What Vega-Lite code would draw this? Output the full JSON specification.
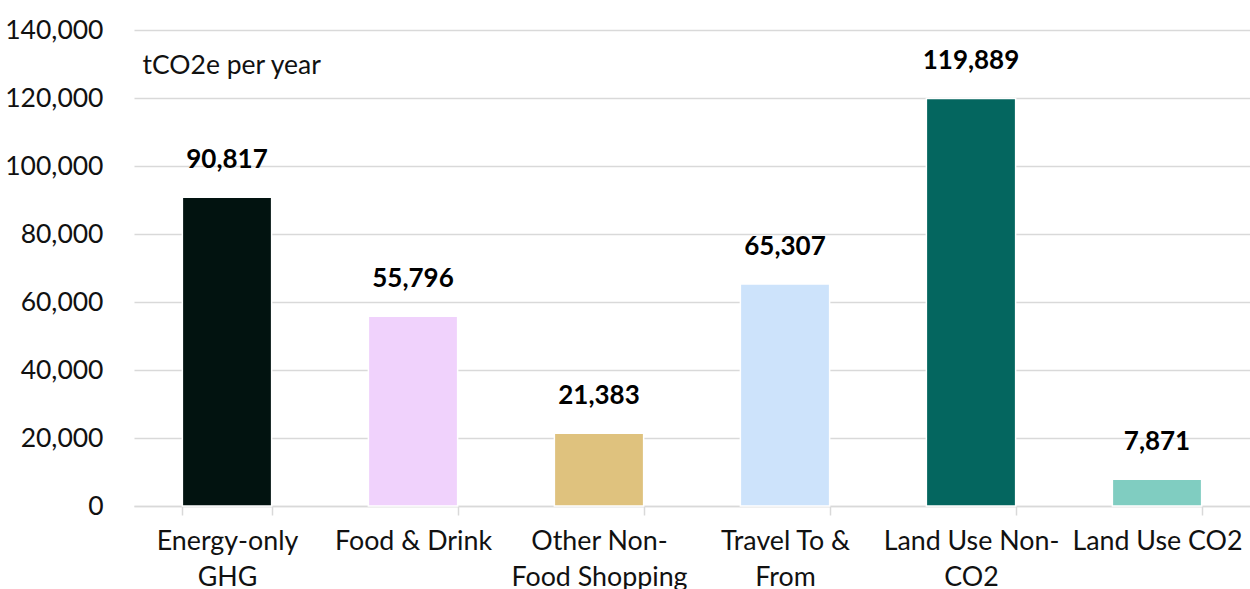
{
  "$schema": "https://vega.github.io/schema/vega-lite/v6.json",
  "autosize": {"type": "none"},
  "padding": {"left": 134, "top": 30, "right": 0, "bottom": 83},
  "width": 1116,
  "height": 476,
  "background": "white",
  "config": {"view": {"stroke": null}, "font": "Lato"},
  "data": {"values": [
    {"category": "Energy-only GHG", "value": 90817},
    {"category": "Food & Drink", "value": 55796},
    {"category": "Other Non-Food Shopping", "value": 21383},
    {"category": "Travel To & From", "value": 65307},
    {"category": "Land Use Non-CO2", "value": 119889},
    {"category": "Land Use CO2", "value": 7871}
  ]},
  "encoding": {
    "x": {
      "field": "category", "type": "nominal", "sort": null,
      "scale": {"paddingInner": 0.52, "paddingOuter": 0.26},
      "axis": {
        "title": null, "labelAngle": 0, "labelFont": "Lato", "labelFontSize": 26.8, "labelColor": "#111111",
        "labelPadding": 13, "labelLineHeight": 36, "labelBaseline": "top",
        "domainColor": "#d9d9d9", "domainWidth": 1.5, "tickColor": "#d9d9d9", "tickWidth": 1.5, "tickSize": 9,
        "tickBand": "extent", "grid": false,
        "labelExpr": "datum.value == 'Energy-only GHG' ? ['Energy-only','GHG'] : datum.value == 'Other Non-Food Shopping' ? ['Other Non-','Food Shopping'] : datum.value == 'Travel To & From' ? ['Travel To &','From'] : datum.value == 'Land Use Non-CO2' ? ['Land Use Non-','CO2'] : datum.value"
      }
    },
    "y": {
      "field": "value", "type": "quantitative",
      "scale": {"domain": [0, 140000]},
      "axis": {
        "values": [0, 20000, 40000, 60000, 80000, 100000, 120000, 140000],
        "format": ",.0f", "domain": false, "ticks": false, "labelPadding": 31,
        "labelFont": "Lato", "labelFontSize": 26.5, "labelColor": "#111111",
        "gridColor": "#d9d9d9", "gridWidth": 1.5,
        "title": "tCO2e per year", "titleAngle": 0, "titleAlign": "left", "titleBaseline": "alphabetic",
        "titleX": 8, "titleY": 43, "titleFont": "Lato", "titleFontSize": 26.5, "titleFontWeight": "normal", "titleColor": "#111111"
      }
    }
  },
  "layer": [
    {
      "mark": {"type": "bar", "stroke": "white", "strokeWidth": 1.5},
      "encoding": {
        "color": {
          "field": "category", "type": "nominal", "legend": null,
          "scale": {
            "domain": ["Energy-only GHG", "Food & Drink", "Other Non-Food Shopping", "Travel To & From", "Land Use Non-CO2", "Land Use CO2"],
            "range": ["#021310", "#f0d2fc", "#dfc27e", "#cde3fb", "#04665f", "#80cdc1"]
          }
        }
      }
    },
    {
      "mark": {"type": "text", "font": "Lato", "fontSize": 26, "fontWeight": "bold", "color": "#000000", "baseline": "alphabetic", "dy": -29},
      "encoding": {"text": {"field": "value", "type": "quantitative", "format": ",.0f"}}
    }
  ]
}
